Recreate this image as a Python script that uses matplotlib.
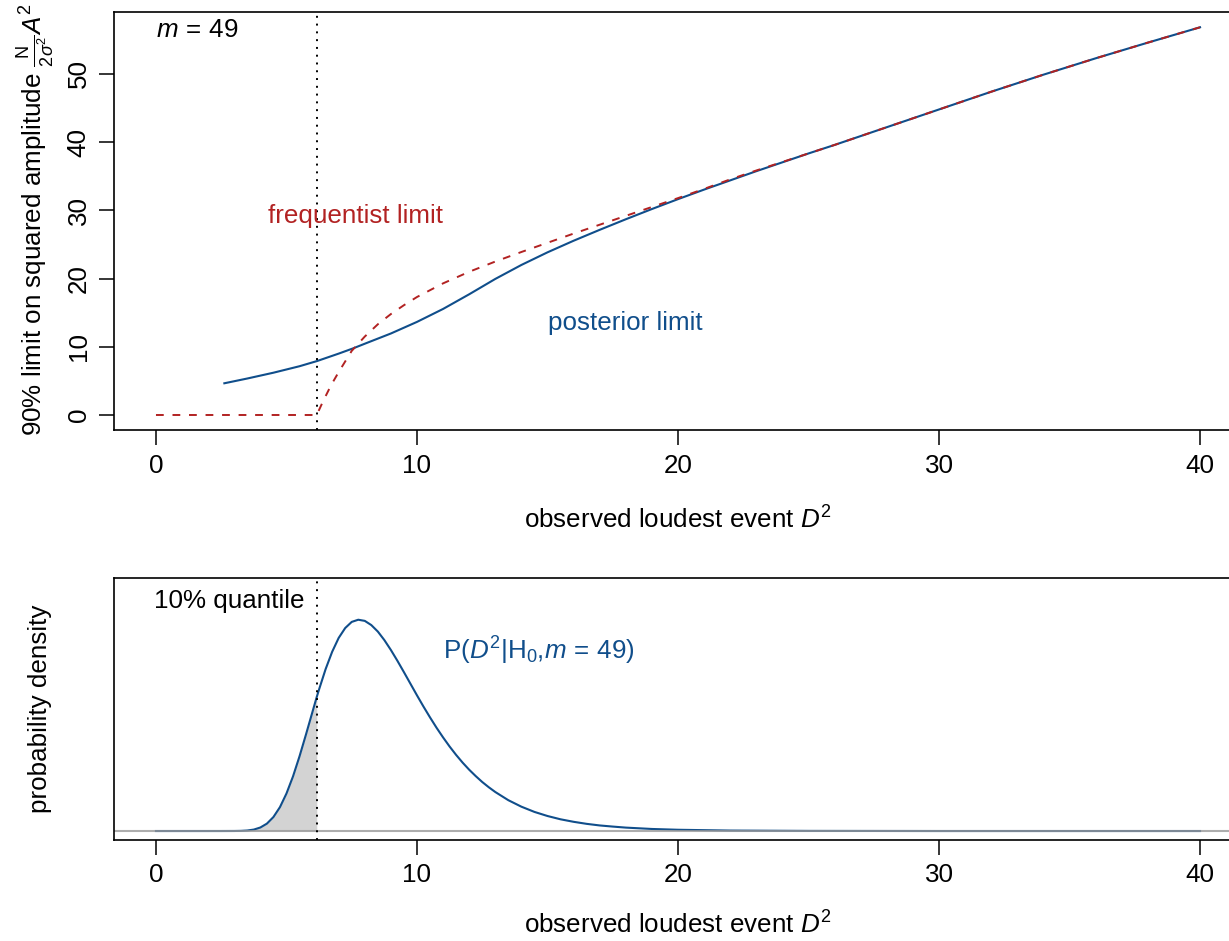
import matplotlib
matplotlib.use('Agg')
import matplotlib.pyplot as plt

plt.rcParams['font.family'] = ['Liberation Sans', 'DejaVu Sans']
plt.rcParams['mathtext.fontset'] = 'custom'
plt.rcParams['mathtext.rm'] = 'Liberation Sans'
plt.rcParams['mathtext.it'] = 'Liberation Sans:italic'
plt.rcParams['mathtext.sf'] = 'Liberation Sans'

# upper panel: 90% limits as function of observed loudest event
post_x = [2.62, 3.5, 4.5, 5.5, 6.18, 7.0, 7.56, 8.0, 9.0, 10.0, 11.0, 12.0, 13.0, 14.0,
          15.0, 16.0, 17.0, 18.0, 19.0, 20.0, 21.0, 22.0, 23.0, 24.0, 25.0, 26.0, 27.0,
          28.0, 29.0, 30.0, 32.0, 34.0, 36.0, 38.0, 40.0]
post_y = [4.65, 5.35, 6.2, 7.15, 7.92, 9.0, 9.78, 10.45, 11.95, 13.65, 15.55, 17.7,
          19.95, 22.0, 23.85, 25.55, 27.15, 28.7, 30.2, 31.65, 33.05, 34.4, 35.75, 37.05,
          38.35, 39.6, 40.9, 42.2, 43.5, 44.8, 47.4, 49.9, 52.3, 54.6, 56.85]

freq_x = [0, 6.16, 6.4, 6.7, 7.0, 7.5, 8.0, 8.5, 9.0, 9.5, 10.0, 11.0, 12.0, 13.0,
          14.0, 15.0, 16.0, 17.0, 18.0, 19.0, 20.0, 21.0, 22.0, 23.0, 24.0, 25.0, 26.0,
          27.0, 28.0, 29.0, 30.0, 32.0, 34.0, 36.0, 38.0, 40.0]
freq_y = [0, 0, 2.0, 4.3, 6.3, 9.4, 11.5, 13.3, 14.8, 16.1, 17.3, 19.3, 21.0, 22.5,
          23.9, 25.25, 26.6, 27.9, 29.2, 30.5, 31.8, 33.15, 34.55, 35.85, 37.1, 38.35,
          39.6, 40.9, 42.2, 43.5, 44.8, 47.4, 49.9, 52.3, 54.6, 56.85]

quantile10 = 6.16

# lower panel: density of loudest event under H0
dens_x = [0, 1, 2, 2.5, 3, 3.25, 3.5, 3.75, 4, 4.25, 4.5, 4.75, 5, 5.25, 5.5, 5.75, 6,
          6.16, 6.25, 6.5, 6.75, 7, 7.25, 7.5, 7.75, 8, 8.25, 8.5, 8.75, 9, 9.25, 9.5,
          9.75, 10, 10.25, 10.5, 10.75, 11, 11.25, 11.5, 11.75, 12, 12.25, 12.5, 12.75,
          13, 13.5, 14, 14.5, 15, 15.5, 16, 16.5, 17, 17.5, 18, 19, 20, 22, 25, 30, 40]
dens_y = [0, 0, 0, 0.000002, 0.00003, 0.00013, 0.00045, 0.00127, 0.0031, 0.0065,
          0.0123, 0.0210, 0.0330, 0.0480, 0.0657, 0.0851, 0.1051, 0.1179, 0.1246,
          0.1424, 0.1576, 0.1698, 0.1785, 0.1839, 0.1858, 0.1848, 0.1811, 0.1754,
          0.1679, 0.1592, 0.1497, 0.1397, 0.1295, 0.1193, 0.1094, 0.0999, 0.0908,
          0.0823, 0.0743, 0.0669, 0.0601, 0.0539, 0.0483, 0.0431, 0.0385, 0.0343,
          0.0271, 0.0214, 0.0168, 0.0132, 0.0103, 0.0081, 0.0063, 0.0049, 0.0039,
          0.0030, 0.0018, 0.0011, 0.0004, 0.0001, 0, 0]

blue = '#104E8B'
red = '#B22222'
fs = 18.7
W, H = 1229, 941

fig = plt.figure(figsize=(W / 100, H / 100), dpi=100)

xl = (-1.6, 41.6)
left = 114.2 / W
width = (1241.8 - 114.2) / W

ax1 = fig.add_axes([left, 1 - 430.5 / H, width, (430.5 - 11.8) / H])
ax1.plot(post_x, post_y, color=blue, lw=1.5)
ax1.plot(freq_x, freq_y, color=red, lw=1.4, linestyle=(0, (4, 4.5)))
ax1.axvline(quantile10, color='black', lw=1.4, linestyle=(0, (1, 3)))
ax1.set_xlim(*xl)
ax1.set_ylim(-2.274, 59.12)
ax1.set_xticks([0, 10, 20, 30, 40])
ax1.set_yticks([0, 10, 20, 30, 40, 50])
ax1.text(0, 56.5, r'$m\,=\,49$', fontsize=fs, ha='left', va='center')
ax1.text(7.64, 29.2, 'frequentist limit', color=red, fontsize=fs, ha='center', va='center')
ax1.text(18.0, 13.5, 'posterior limit', color=blue, fontsize=fs, ha='center', va='center')

ax2 = fig.add_axes([left, 1 - 840 / H, width, (840 - 578) / H])
mask = [x <= quantile10 for x in dens_x]
ax2.fill_between(dens_x, 0, dens_y, where=mask, color='#D3D3D3', lw=0)
ax2.plot(dens_x, dens_y, color=blue, lw=1.5)
ax2.axhline(0, color='#999999', lw=1.5, alpha=0.8)
ax2.axvline(quantile10, color='black', lw=1.4, linestyle=(0, (1, 3)))
ax2.set_xlim(*xl)
ax2.set_ylim(-0.0079, 0.2225)
ax2.set_xticks([0, 10, 20, 30, 40])
ax2.set_yticks([])
ax2.text(5.7, 0.2023, '10% quantile', fontsize=fs, ha='right', va='center')
ax2.text(11.0, 0.158, r'P($D^2$|H$_0$,$m\,=\,49$)', color=blue, fontsize=fs,
         ha='left', va='center')

for ax in (ax1, ax2):
    for s in ax.spines.values():
        s.set_linewidth(1.2)
    ax.tick_params(length=10.8, width=1.1, labelsize=fs, pad=6)

for lab in ax1.get_yticklabels():
    lab.set_rotation(90)
    lab.set_va('center')

# axis titles placed in figure pixels
fig.text(678 / W, 1 - 520 / H, r'observed loudest event $D^2$', fontsize=fs,
         ha='center', va='center')
fig.text(678 / W, 1 - 925 / H, r'observed loudest event $D^2$', fontsize=fs,
         ha='center', va='center')
fig.text(36 / W, 1 - 220 / H, r'90% limit on squared amplitude $\frac{\mathrm{N}}{2\sigma^2}A^2$',
         fontsize=fs, rotation=90, ha='center', va='center')
fig.text(40 / W, 1 - 709 / H, 'probability density', fontsize=fs, rotation=90,
         ha='center', va='center')

fig.savefig('out.png', dpi=100)
